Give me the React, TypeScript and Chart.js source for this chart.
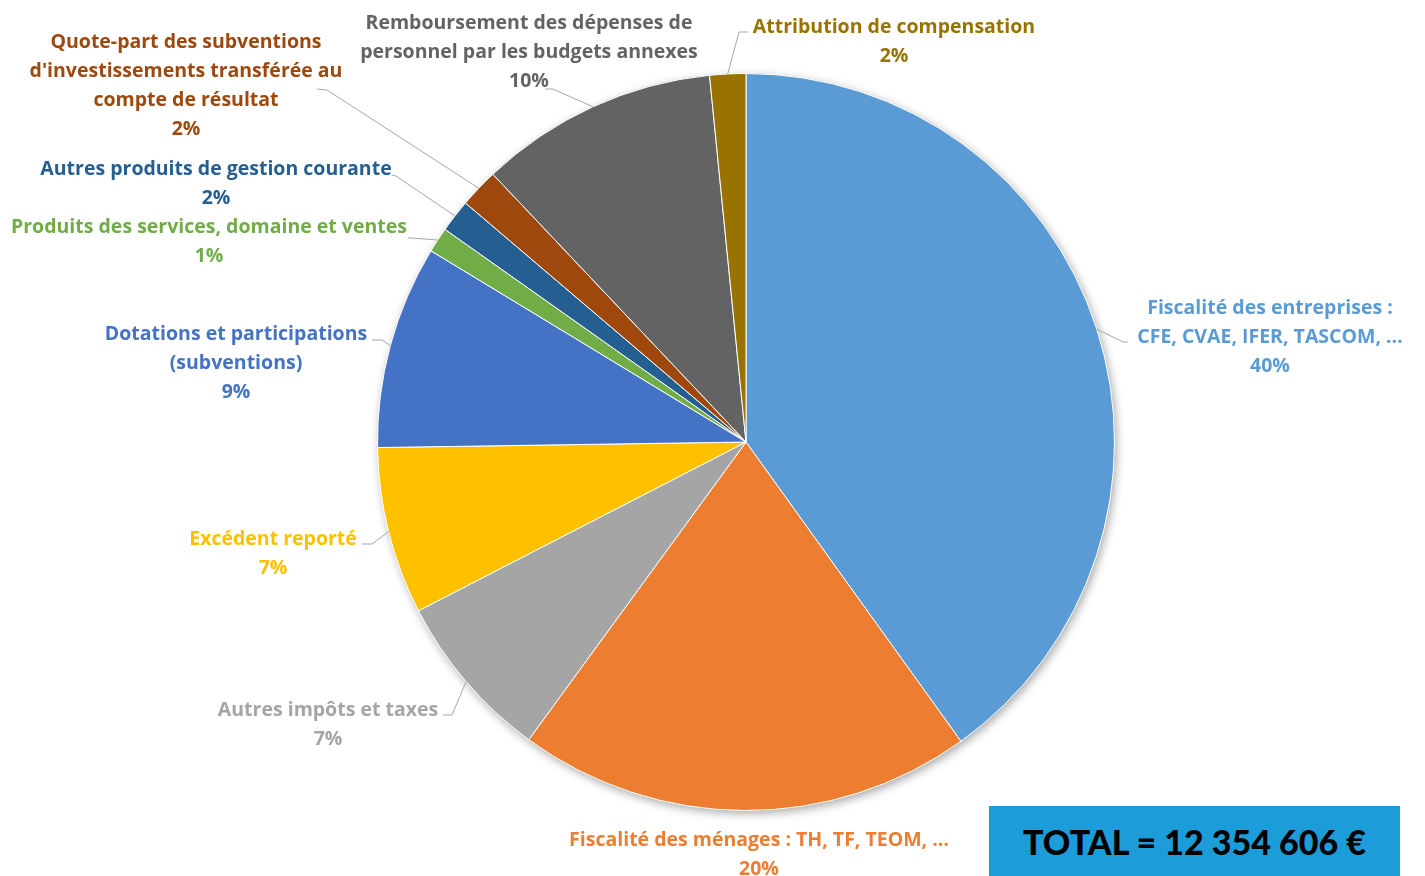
import React, { useEffect, useRef } from 'react';
import { Chart, registerables } from 'chart.js';

Chart.register(...registerables);

// ---- Data ----
const categories = [
  'Fiscalité des entreprises : CFE, CVAE, IFER, TASCOM, …',
  'Fiscalité des ménages : TH, TF, TEOM, …',
  'Autres impôts et taxes',
  'Excédent reporté',
  'Dotations et participations (subventions)',
  'Produits des services, domaine et ventes',
  'Autres produits de gestion courante',
  "Quote-part des subventions d'investissements transférée au compte de résultat",
  'Remboursement des dépenses de personnel par les budgets annexes',
  'Attribution de compensation',
];

// amounts in euros (total ≈ 12 354 606 €)
const values = [4952000, 2464000, 913000, 906000, 1102000, 137000, 178000, 212000, 1294000, 195000];

const percentLabels = ['40%', '20%', '7%', '7%', '9%', '1%', '2%', '2%', '10%', '2%'];

const labelLines = [
  ['Fiscalité des entreprises :', 'CFE, CVAE, IFER, TASCOM, …'],
  ['Fiscalité des ménages : TH, TF, TEOM, …'],
  ['Autres impôts et taxes'],
  ['Excédent reporté'],
  ['Dotations et participations', '(subventions)'],
  ['Produits des services, domaine et ventes'],
  ['Autres produits de gestion courante'],
  ['Quote-part des subventions', "d'investissements transférée au", 'compte de résultat'],
  ['Remboursement des dépenses de', 'personnel par les budgets annexes'],
  ['Attribution de compensation'],
];

const totalText = 'TOTAL = 12 354 606 €';

// ---- Styles / layout ----
const colors = ['#5B9BD5', '#ED7D31', '#A5A5A5', '#FFC000', '#4472C4', '#70AD47', '#255E91', '#9E480E', '#636363', '#997300'];

type LabelPos = { cx: number; y0: number; elbow?: [number, number]; end?: [number, number] };
const labelLayout: LabelPos[] = [
  { cx: 1270, y0: 308, elbow: [1123, 342], end: [1128, 342] },
  { cx: 759, y0: 840 },
  { cx: 328, y0: 710, elbow: [452, 715], end: [443, 715] },
  { cx: 273, y0: 539, elbow: [372, 544], end: [362, 544] },
  { cx: 236, y0: 334, elbow: [382, 340], end: [372, 340] },
  { cx: 209, y0: 227, elbow: [411, 238], end: [408, 238] },
  { cx: 216, y0: 169, elbow: [396, 176], end: [392, 175] },
  { cx: 186, y0: 42, elbow: [327, 90], end: [317, 89] },
  { cx: 529, y0: 23, elbow: [553, 89], end: [545, 89] },
  { cx: 894, y0: 27, elbow: [739, 32], end: [748, 32] },
];

const LINE_H = 29;
const LABEL_FONT = 'bold 19.5px "Open Sans"';

const shadowPlugin = {
  id: 'pieShadow',
  beforeDatasetsDraw(chart: any) {
    const meta = chart.getDatasetMeta(0);
    if (!meta.data.length) return;
    const a = meta.data[0];
    const ctx = chart.ctx;
    ctx.save();
    ctx.shadowColor = 'rgba(0,0,0,0.35)';
    ctx.shadowBlur = 10;
    ctx.shadowOffsetX = 2;
    ctx.shadowOffsetY = 3;
    ctx.fillStyle = '#ffffff';
    ctx.beginPath();
    ctx.arc(a.x, a.y, a.outerRadius, 0, Math.PI * 2);
    ctx.fill();
    ctx.restore();
  },
};

const labelPlugin = {
  id: 'outsideLabels',
  afterDatasetsDraw(chart: any) {
    const meta = chart.getDatasetMeta(0);
    const ctx = chart.ctx;
    ctx.save();
    meta.data.forEach((arc: any, i: number) => {
      const lay = labelLayout[i];
      if (lay.elbow && lay.end) {
        const mid = (arc.startAngle + arc.endAngle) / 2;
        const px = arc.x + Math.cos(mid) * arc.outerRadius;
        const py = arc.y + Math.sin(mid) * arc.outerRadius;
        ctx.strokeStyle = '#A6A6A6';
        ctx.lineWidth = 1;
        ctx.beginPath();
        ctx.moveTo(px, py);
        ctx.lineTo(lay.elbow[0], lay.elbow[1]);
        ctx.lineTo(lay.end[0], lay.end[1]);
        ctx.stroke();
      }
      ctx.font = LABEL_FONT;
      ctx.fillStyle = colors[i];
      ctx.textAlign = 'center';
      ctx.textBaseline = 'middle';
      const lines = [...labelLines[i], percentLabels[i]];
      lines.forEach((t, k) => {
        ctx.fillText(t, lay.cx, lay.y0 + k * LINE_H);
      });
    });
    ctx.restore();
  },
};

export default function App() {
  const ref = useRef<HTMLCanvasElement | null>(null);

  useEffect(() => {
    if (!ref.current) return;
    const chart = new Chart(ref.current, {
      type: 'pie',
      data: {
        labels: categories,
        datasets: [
          {
            data: values,
            backgroundColor: colors,
            borderColor: '#ffffff',
            borderWidth: 1,
          },
        ],
      },
      options: {
        responsive: false,
        animation: false,
        layout: { padding: { left: 377, right: 310, top: 73, bottom: 65 } },
        plugins: {
          legend: { display: false },
          tooltip: { enabled: false },
        },
      },
      plugins: [shadowPlugin, labelPlugin],
    });
    const fonts: any = (document as any).fonts;
    if (fonts && fonts.load) {
      Promise.all([fonts.load('bold 19.5px "Open Sans"'), fonts.load('bold 34px Lato')]).then(() => chart.draw()).catch(() => {});
    }
    return () => chart.destroy();
  }, []);

  return (
    <div style={{ position: 'absolute', left: 0, top: 0, width: 1425, height: 876, background: '#fff' }}>
      <canvas ref={ref} width={1425} height={876} style={{ display: 'block' }} />
      <div
        style={{
          position: 'absolute',
          left: 989,
          top: 806,
          width: 411,
          height: 70,
          background: '#1C9CD8',
          color: '#000',
          fontFamily: 'Lato, sans-serif',
          fontWeight: 900,
          fontSize: 34,
          display: 'flex',
          alignItems: 'center',
          justifyContent: 'center',
          whiteSpace: 'nowrap',
        }}
      >
        {totalText}
      </div>
    </div>
  );
}
